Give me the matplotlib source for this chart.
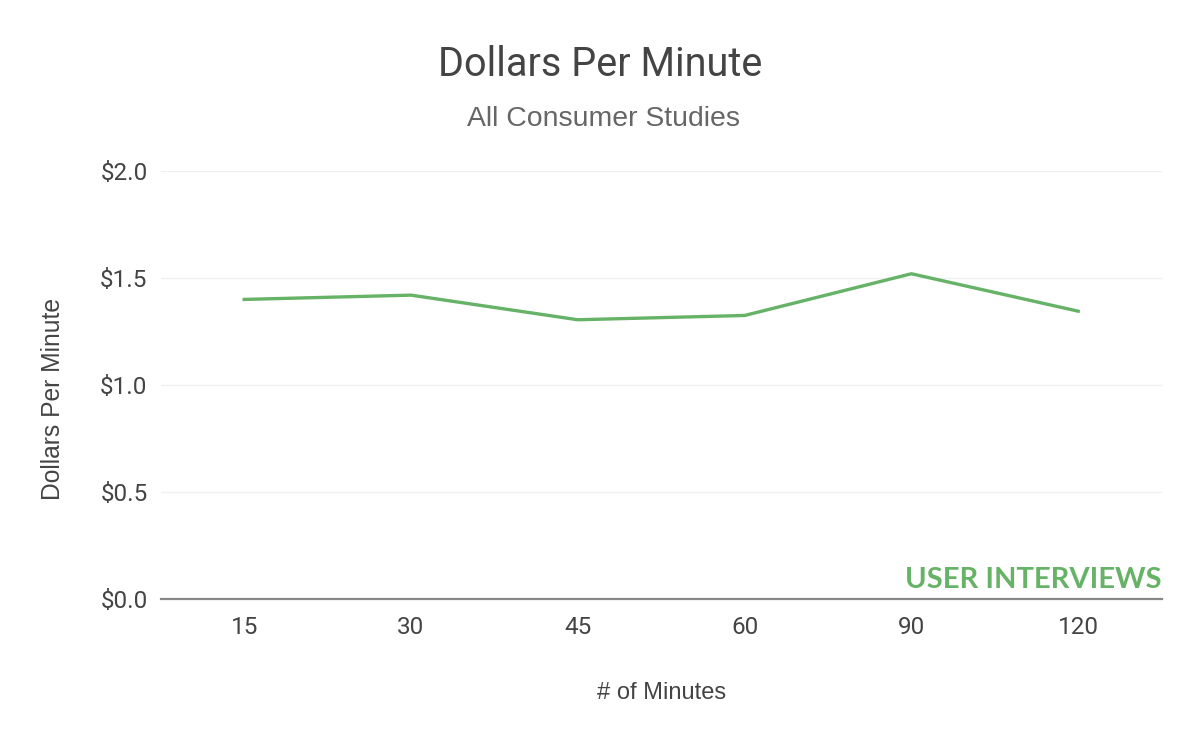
import numpy as np
import matplotlib.pyplot as plt

plt.rcParams['font.family'] = ['Roboto', 'DejaVu Sans']

# Data
minutes = ["15", "30", "45", "60", "90", "120"]
dollars = [1.40, 1.42, 1.305, 1.325, 1.52, 1.345]
y_ticks = [0.0, 0.5, 1.0, 1.5, 2.0]

helv = ["Liberation Sans", "DejaVu Sans"]

fig = plt.figure(figsize=(12, 7.42), dpi=100)
ax = fig.add_axes([0.134, 0.1927, 0.834, 0.5768])

x = np.arange(len(minutes))
ax.plot(x, dollars, color="#66b266", linewidth=2.4, solid_joinstyle="round")

ax.set_xlim(-0.5, len(minutes) - 0.5)
ax.set_ylim(0, 2.0)
ax.set_xticks(x)
ax.set_xticklabels(minutes)
ax.set_yticks(y_ticks)
ax.set_yticklabels(["${:.1f}".format(v) for v in y_ticks])
ax.tick_params(axis="both", length=0, labelsize=17.5, labelcolor="#444444")
ax.tick_params(axis="x", pad=12)
ax.tick_params(axis="y", pad=9.5)

ax.grid(axis="y", color="#f0f0f0", linewidth=1)
ax.set_axisbelow(True)
for side in ["top", "right", "left"]:
    ax.spines[side].set_visible(False)
ax.spines["bottom"].set_color("#888888")
ax.spines["bottom"].set_linewidth(1.6)
ax.spines["bottom"].set_zorder(3)

ax.set_xlabel("# of Minutes", fontsize=17, color="#444444", family=helv)
ax.xaxis.set_label_coords(0.5, -0.193)
ax.set_ylabel("Dollars Per Minute", fontsize=17.7, color="#444444", family=helv)
ax.yaxis.set_label_coords(-0.096, 0.468)

fig.text(0.5, 0.913, "Dollars Per Minute", ha="center", va="center",
         fontsize=28.5, color="#444444")
fig.text(0.503, 0.839, "All Consumer Studies", ha="center", va="center",
         fontsize=20.4, color="#666666", family=helv)

ax.text(1.0, 0.015, "USER INTERVIEWS", transform=ax.transAxes, ha="right",
        va="bottom", fontsize=21, fontweight="bold", color="#66b266",
        family=["Lato", "DejaVu Sans"])

fig.savefig("out.png", dpi=100, facecolor="white")
